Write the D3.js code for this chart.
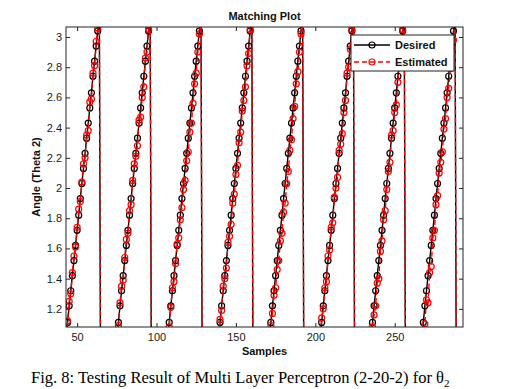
<!DOCTYPE html>
<html><head><meta charset="utf-8">
<script src="https://cdn.jsdelivr.net/npm/d3@7/dist/d3.min.js"></script>
<style>body{margin:0;background:#fff}svg{display:block}</style>
</head><body><svg id="c" width="511" height="389"></svg>
<script>
// ---- data ----
const samples = [
43,44,45,46,47,48,49,50,51,52,53,54,55,56,57,58,59,60,61,62,63,64,
65,66,67,68,69,70,71,72,73,74,75,76,77,78,79,80,81,82,83,84,85,86,87,88,89,90,91,92,93,94,95,96,
97,98,99,100,101,102,103,104,105,106,107,108,109,110,111,112,113,114,115,116,117,118,119,120,121,122,123,124,125,126,127,128,
129,130,131,132,133,134,135,136,137,138,139,140,141,142,143,144,145,146,147,148,149,150,151,152,153,154,155,156,157,158,159,160,
161,162,163,164,165,166,167,168,169,170,171,172,173,174,175,176,177,178,179,180,181,182,183,184,185,186,187,188,189,190,191,192,
193,194,195,196,197,198,199,200,201,202,203,204,205,206,207,208,209,210,211,212,213,214,215,216,217,218,219,220,221,222,223,224,
225,226,227,228,229,230,231,232,233,234,235,236,237,238,239,240,241,242,243,244,245,246,247,248,249,250,251,252,253,254,255,256,
257,258,259,260,261,262,263,264,265,266,267,268,269,270,271,272,273,274,275,276,277,278,279,280,281,282,283,284,285,286,287,288,
289,290,291,292,293];

const desired = [
1.01,1.11,1.22,1.32,1.42,1.52,1.62,1.72,1.82,1.93,2.03,2.13,2.23,2.33,2.43,2.53,2.63,2.74,2.84,2.94,3.04,3.14,
0,0.10,0.20,0.30,0.41,0.51,0.61,0.71,0.81,0.91,1.01,1.11,1.22,1.32,1.42,1.52,1.62,1.72,1.82,1.93,2.03,2.13,2.23,2.33,2.43,2.53,2.63,2.74,2.84,2.94,3.04,3.14,
0,0.10,0.20,0.30,0.41,0.51,0.61,0.71,0.81,0.91,1.01,1.11,1.22,1.32,1.42,1.52,1.62,1.72,1.82,1.93,2.03,2.13,2.23,2.33,2.43,2.53,2.63,2.74,2.84,2.94,3.04,3.14,
0,0.10,0.20,0.30,0.41,0.51,0.61,0.71,0.81,0.91,1.01,1.11,1.22,1.32,1.42,1.52,1.62,1.72,1.82,1.93,2.03,2.13,2.23,2.33,2.43,2.53,2.63,2.74,2.84,2.94,3.04,3.14,
0,0.10,0.20,0.30,0.41,0.51,0.61,0.71,0.81,0.91,1.01,1.11,1.22,1.32,1.42,1.52,1.62,1.72,1.82,1.93,2.03,2.13,2.23,2.33,2.43,2.53,2.63,2.74,2.84,2.94,3.04,3.14,
0,0.10,0.20,0.30,0.41,0.51,0.61,0.71,0.81,0.91,1.01,1.11,1.22,1.32,1.42,1.52,1.62,1.72,1.82,1.93,2.03,2.13,2.23,2.33,2.43,2.53,2.63,2.74,2.84,2.94,3.04,3.14,
0,0.10,0.20,0.30,0.41,0.51,0.61,0.71,0.81,0.91,1.01,1.11,1.22,1.32,1.42,1.52,1.62,1.72,1.82,1.93,2.03,2.13,2.23,2.33,2.43,2.53,2.63,2.74,2.84,2.94,3.04,3.14,
0,0.10,0.20,0.30,0.41,0.51,0.61,0.71,0.81,0.91,1.01,1.11,1.22,1.32,1.42,1.52,1.62,1.72,1.82,1.93,2.03,2.13,2.23,2.33,2.43,2.53,2.63,2.74,2.84,2.94,3.04,3.14,
0,0.10,0.20,0.30,0.41];

const estimated = [
1.03,1.12,1.25,1.30,1.44,1.55,1.61,1.74,1.86,1.91,2.04,2.16,2.20,2.35,2.38,2.57,2.59,2.76,2.81,2.97,3.06,3.14,
0.03,0.08,0.22,0.28,0.43,0.49,0.63,0.69,0.84,0.89,1.03,1.09,1.24,1.35,1.39,1.54,1.66,1.70,1.85,1.89,2.05,2.16,2.21,2.28,2.45,2.47,2.60,2.67,2.86,2.90,3.05,3.14,
-0.02,0.12,0.18,0.33,0.39,0.53,0.59,0.74,0.79,0.93,0.99,1.08,1.21,1.34,1.38,1.50,1.63,1.67,1.79,1.87,1.99,2.05,2.18,2.24,2.37,2.43,2.56,2.69,2.76,2.90,3.02,3.14,
0.04,0.09,0.23,0.27,0.44,0.50,0.60,0.73,0.80,0.92,1.00,1.13,1.19,1.35,1.40,1.47,1.64,1.68,1.76,1.90,1.96,2.09,2.15,2.30,2.37,2.51,2.58,2.67,2.81,2.89,3.05,3.14,
0.01,0.13,0.19,0.31,0.42,0.48,0.64,0.70,0.83,0.88,1.02,1.09,1.17,1.29,1.34,1.46,1.52,1.65,1.70,1.84,1.90,2.03,2.11,2.25,2.32,2.46,2.54,2.69,2.77,2.90,3.02,3.14,
0.05,0.08,0.21,0.32,0.38,0.54,0.60,0.72,0.79,0.93,1.03,1.14,1.20,1.34,1.38,1.55,1.59,1.74,1.77,1.94,2.00,2.07,2.25,2.29,2.36,2.50,2.58,2.76,2.80,2.92,3.05,3.14,
0.02,0.11,0.22,0.27,0.43,0.50,0.62,0.70,0.84,0.90,1.00,1.08,1.16,1.22,1.37,1.40,1.58,1.65,1.79,1.85,1.99,2.11,2.17,2.35,2.38,2.50,2.55,2.70,2.82,2.89,3.05,3.14,
-0.01,0.12,0.19,0.32,0.40,0.52,0.59,0.73,0.80,0.91,1.04,1.06,1.10,1.26,1.24,1.44,1.48,1.67,1.72,1.89,1.95,2.10,2.17,2.24,2.39,2.46,2.60,2.66,2.79,2.92,2.98,3.14,
0.03,0.09,0.22,0.29,0.42];

const seriesNames = ["Desired", "Estimated"];
const seriesColors = ["#000000", "#ff0000"];
const xTicks = [50, 100, 150, 200, 250];
const yTicks = [1.2, 1.4, 1.6, 1.8, 2, 2.2, 2.4, 2.6, 2.8, 3];
const titleText = "Matching Plot";
const xLabel = "Samples";
const yLabel = "Angle (Theta 2)";

// ---- layout ----
const m = {l: 66, r: 463, t: 27, b: 327};
const svg = d3.select("#c");
const sans = "'Liberation Sans', Arial, Helvetica, sans-serif";

const x = d3.scaleLinear().domain([43, 293]).range([m.l, m.r]);
const y = d3.scaleLinear().domain([1.08, 3.066]).range([m.b, m.t]);

svg.append("rect").attr("width", 511).attr("height", 389).attr("fill", "#fff");

svg.append("defs").append("clipPath").attr("id", "clip")
  .append("rect").attr("x", m.l).attr("y", m.t).attr("width", m.r - m.l).attr("height", m.b - m.t);

// axes
function styleAxis(g) {
  g.select(".domain").remove();
  g.selectAll("line").attr("stroke", "#222");
  g.selectAll("text").attr("font-family", sans).attr("font-size", 11).attr("fill", "#1a1a1a");
}
svg.append("g").attr("transform", `translate(0,${m.b})`)
  .call(d3.axisBottom(x).tickValues(xTicks).tickSizeInner(-4).tickSizeOuter(0).tickPadding(6).tickFormat(d3.format("d")))
  .call(styleAxis);
svg.append("g").attr("transform", `translate(0,${m.t})`)
  .call(d3.axisTop(x).tickValues(xTicks).tickSizeInner(-4).tickSizeOuter(0).tickFormat(""))
  .call(styleAxis);
svg.append("g").attr("transform", `translate(${m.l},0)`)
  .call(d3.axisLeft(y).tickValues(yTicks).tickSizeInner(-4).tickSizeOuter(0).tickPadding(4).tickFormat(d3.format("")))
  .call(styleAxis);
svg.append("g").attr("transform", `translate(${m.r},0)`)
  .call(d3.axisRight(y).tickValues(yTicks).tickSizeInner(-4).tickSizeOuter(0).tickFormat(""))
  .call(styleAxis);

// data
const plot = svg.append("g").attr("clip-path", "url(#clip)");
const seriesData = [desired, estimated].map(vals => samples.map((s, i) => ({s, v: vals[i]})));
const line = d3.line().x(d => x(d.s)).y(d => y(d.v));

seriesData.forEach((data, si) => {
  plot.append("path").datum(data)
    .attr("d", line)
    .attr("fill", "none")
    .attr("stroke", seriesColors[si])
    .attr("stroke-width", 1.4)
    .attr("stroke-dasharray", si === 1 ? "5,3" : null);
  plot.append("g").selectAll("circle").data(data).join("circle")
    .attr("cx", d => x(d.s)).attr("cy", d => y(d.v)).attr("r", 3)
    .attr("fill", "none").attr("stroke", seriesColors[si]).attr("stroke-width", 1.2);
});

// frame
svg.append("rect").attr("x", m.l).attr("y", m.t).attr("width", m.r - m.l).attr("height", m.b - m.t)
  .attr("fill", "none").attr("stroke", "#222").attr("stroke-width", 1);

// legend
const lg = svg.append("g");
lg.append("rect").attr("x", 351).attr("y", 35).attr("width", 103).attr("height", 36)
  .attr("fill", "#fff").attr("stroke", "#222").attr("stroke-width", 1);
seriesNames.forEach((name, i) => {
  const ly = 45 + i * 17;
  lg.append("line").attr("x1", 354).attr("x2", 390).attr("y1", ly).attr("y2", ly)
    .attr("stroke", seriesColors[i]).attr("stroke-width", 1.4)
    .attr("stroke-dasharray", i === 1 ? "5,3" : null);
  lg.append("circle").attr("cx", 372).attr("cy", ly).attr("r", 3)
    .attr("fill", "none").attr("stroke", seriesColors[i]).attr("stroke-width", 1.2);
  lg.append("text").attr("x", 395).attr("y", ly + 4).text(name)
    .attr("font-family", sans).attr("font-size", 11).attr("font-weight", "bold").attr("fill", "#111");
});

// titles
svg.append("text").attr("x", (m.l + m.r) / 2).attr("y", 19.5).attr("text-anchor", "middle")
  .attr("font-family", sans).attr("font-size", 11).attr("font-weight", "bold").attr("fill", "#111").text(titleText);
svg.append("text").attr("x", (m.l + m.r) / 2).attr("y", 355).attr("text-anchor", "middle")
  .attr("font-family", sans).attr("font-size", 11).attr("font-weight", "bold").attr("fill", "#111").text(xLabel);
svg.append("text").attr("transform", `translate(40,${(m.t + m.b) / 2}) rotate(-90)`).attr("text-anchor", "middle")
  .attr("font-family", sans).attr("font-size", 11).attr("font-weight", "bold").attr("fill", "#111").text(yLabel);

// caption
const cap = svg.append("text").attr("x", 31).attr("y", 383)
  .attr("font-family", "'Liberation Serif', 'Times New Roman', serif").attr("font-size", 16.5).attr("fill", "#000");
cap.append("tspan").text("Fig. 8: Testing Result of Multi Layer Perceptron (2-20-2) for θ");
cap.append("tspan").attr("font-size", 11).attr("dy", 4).text("2");
</script></body></html>
